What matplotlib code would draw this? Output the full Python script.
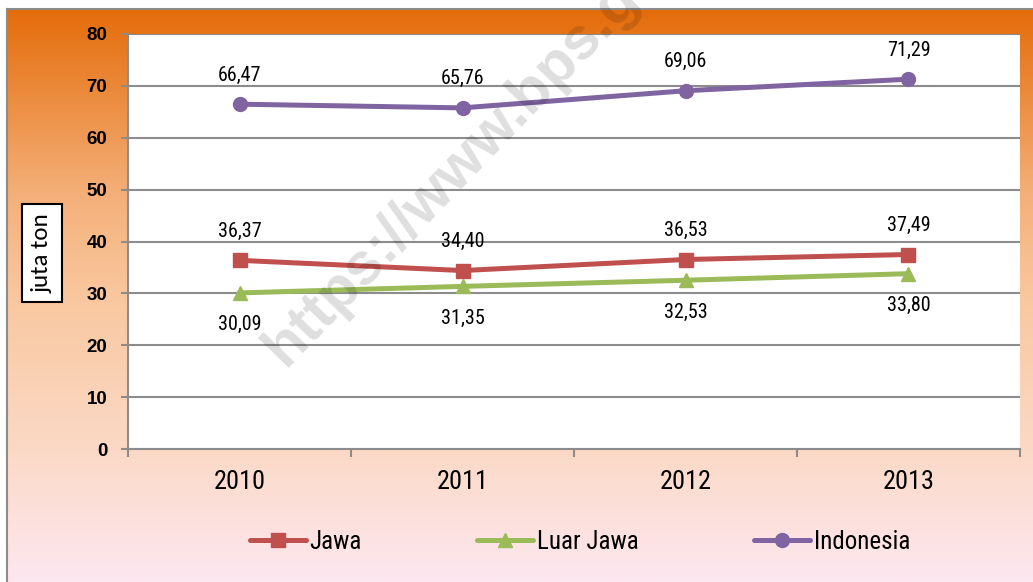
import numpy as np
import matplotlib.pyplot as plt
from matplotlib.colors import LinearSegmentedColormap

# ============================================================
# DATA
# ============================================================

years = ['2010', '2011', '2012', '2013']
jawa = [36.37, 34.40, 36.53, 37.49]
luar_jawa = [30.09, 31.35, 32.53, 33.80]
indonesia = [66.47, 65.76, 69.06, 71.29]

series_names = ['Jawa', 'Luar Jawa', 'Indonesia']
ylabel = 'juta ton'
watermark = 'https://www.bps.go.id'

# ============================================================
# STYLE
# ============================================================

narrow = ['Liberation Sans Narrow', 'Roboto Condensed', 'Archivo Narrow', 'DejaVu Sans']
calibri = ['Carlito', 'Open Sans', 'DejaVu Sans']
arial = ['Liberation Sans', 'DejaVu Sans']
plt.rcParams['font.family'] = narrow

W, H = 1033, 582
fig = plt.figure(figsize=(W / 100, H / 100), dpi=100, facecolor='white')

# background gradient of the chart area
bg = fig.add_axes([7 / W, 0, 1 - 7 / W, 1 - 9 / H], zorder=0)
grad_cmap = LinearSegmentedColormap.from_list(
    'bg',
    [(0.0, '#E46C0A'), (0.32, '#F4AF78'), (0.51, '#F9C8A0'),
     (0.77, '#FBD9C6'), (1.0, '#FDE7F0')]
)
bg.imshow(np.linspace(0, 1, 256).reshape(-1, 1), aspect='auto',
          cmap=grad_cmap, extent=[0, 1, 0, 1])
bg.set_xticks([])
bg.set_yticks([])
for s in ['right', 'bottom']:
    bg.spines[s].set_visible(False)
for s in ['left', 'top']:
    bg.spines[s].set_color('#8C8C8C')
    bg.spines[s].set_linewidth(1.5)

# ============================================================
# PLOT
# ============================================================

ax = fig.add_axes([128 / W, 1 - 449 / H, (1020 - 128) / W, (449 - 34) / H], zorder=1)
ax.set_facecolor('white')

x = np.arange(len(years))

colors = ['#C0504D', '#9BBB59', '#8064A2']
markers = ['s', '^', 'o']
data = [jawa, luar_jawa, indonesia]
offsets = [21, -23, 21]

for vals, name, c, m, off in zip(data, series_names, colors, markers, offsets):
    ax.plot(x, vals, color=c, lw=3.6, marker=m, ms=10, label=name,
            solid_capstyle='round', zorder=3)
    for xi, v in zip(x, vals):
        ax.annotate(f'{v:.2f}'.replace('.', ','), (xi, v),
                    xytext=(0, off), textcoords='offset points',
                    ha='center', va='center', fontsize=14.5, color='black')

ax.set_xlim(-0.5, len(years) - 0.5)
ax.set_ylim(0, 80)
ax.set_yticks(range(0, 81, 10))
ax.set_yticklabels([str(v) for v in range(0, 81, 10)],
                   fontsize=13.5, fontweight='bold', family=arial)
ax.set_xticks(x)
ax.set_xticklabels(years, fontsize=19)
ax.set_xticks(np.arange(-0.5, len(years)), minor=True)

ax.grid(axis='y', color='#8C8C8C', lw=1.5)
ax.set_axisbelow(True)
ax.tick_params(axis='x', which='major', length=0, pad=15)
ax.tick_params(axis='x', which='minor', length=6, width=1.5, color='#8C8C8C')
ax.tick_params(axis='y', length=5, width=1.5, color='#8C8C8C', pad=10)

for s in ['top', 'right']:
    ax.spines[s].set_visible(False)
for s in ['left', 'bottom']:
    ax.spines[s].set_color('#8C8C8C')
    ax.spines[s].set_linewidth(1.5)

# y label in a box
fig.text(42 / W, 1 - 253 / H, ylabel, rotation=90, ha='center', va='center',
         fontsize=18, family=calibri,
         bbox=dict(boxstyle='square,pad=0.38', fc='white', ec='black', lw=1.5))

# legend
fig.legend(loc='center', bbox_to_anchor=(580 / W, 1 - 542 / H), ncol=3,
           frameon=False, fontsize=18, handlelength=2.24, handletextpad=0.16,
           columnspacing=4.6)

# watermark
fig.text(285 / W, 1 - 368 / H, watermark, rotation=46, rotation_mode='anchor',
         ha='left', va='baseline', fontsize=43, fontweight='bold',
         color='black', alpha=0.13, family=arial, zorder=10)

fig.savefig('out.png', dpi=100)
